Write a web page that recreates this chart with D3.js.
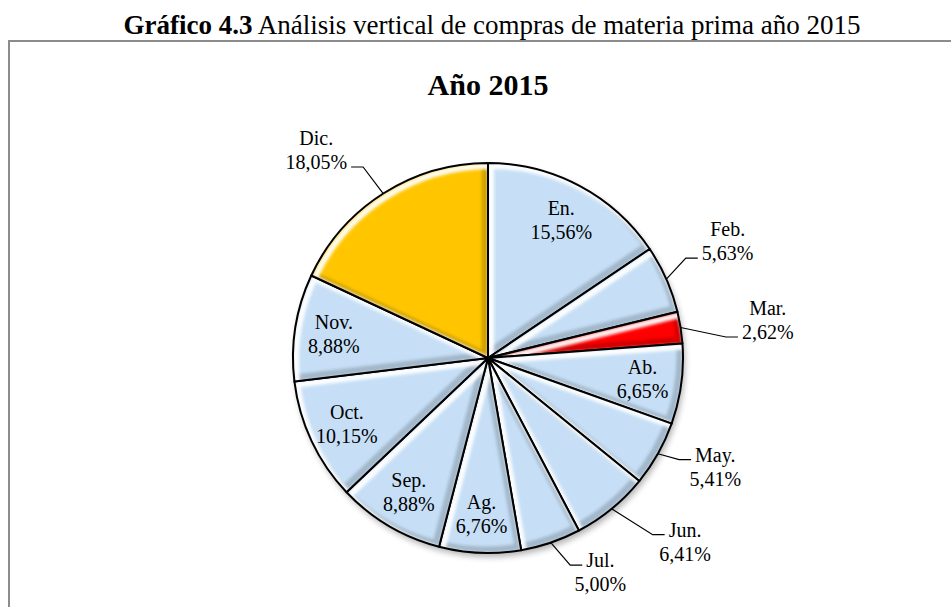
<!DOCTYPE html>
<html>
<head>
<meta charset="utf-8">
<script src="https://cdn.jsdelivr.net/npm/d3@7/dist/d3.min.js"></script>
<style>
body { margin: 0; background: #fff; }
#chart { width: 951px; height: 607px; }
text { font-family: "Times New Roman", "Liberation Serif", serif; fill: #000; }
</style>
</head>
<body>
<div id="chart"></div>
<script>

// datos: compras de materia prima 2015, % por mes
var months = ["En.", "Feb.", "Mar.", "Ab.", "May.", "Jun.", "Jul.", "Ag.", "Sep.", "Oct.", "Nov.", "Dic."];
var shares = [15.56, 5.63, 2.62, 6.65, 5.41, 6.41, 5.00, 6.76, 8.88, 10.15, 8.88, 18.05];

var figureTitle = "Gráfico 4.3";
var figureText = " Análisis vertical de compras de materia prima año 2015";
var chartTitle = "Año 2015";

// colores
var baseColor = "#c6dff6";
var specialColors = { "Mar.": "#ff0000", "Dic.": "#ffc600" };

// etiquetas que van fuera del pastel (ajuste manual como en excel)
var outsideLabels = {
    "Dic.": { dx: -31, dy: 13, line: 1 },
    "Feb.": { dx: 0, dy: -11, line: 1 },
    "Mar.": { dx: 21, dy: 3, line: 1 },
    "May.": { dx: -1, dy: -20, line: 0 },
    "Jun.": { dx: 31, dy: -19, line: 0 },
    "Jul.": { dx: 28, dy: -34, line: 0 }
};

var data = months.map(function(m, i) { return { month: m, value: shares[i] }; });

var width = document.querySelector("#chart").clientWidth;
var height = document.querySelector("#chart").clientHeight;
var svg = d3.select("#chart")
    .append("svg")
    .attr("width", width)
    .attr("height", height);

var defs = svg.append("defs");

var blurSoft = defs.append("filter").attr("id", "blurSoft")
    .attr("x", "-20%").attr("y", "-20%").attr("width", "140%").attr("height", "140%");
blurSoft.append("feGaussianBlur").attr("stdDeviation", 1.6);

var blurShadow = defs.append("filter").attr("id", "blurShadow")
    .attr("x", "-20%").attr("y", "-20%").attr("width", "140%").attr("height", "140%");
blurShadow.append("feGaussianBlur").attr("stdDeviation", 3);

// titulo de la figura
var title = svg.append("text")
    .attr("x", 492)
    .attr("y", 34)
    .attr("text-anchor", "middle")
    .attr("font-size", "27px");
title.append("tspan").attr("font-weight", "700").text(figureTitle);
title.append("tspan").text(figureText);

// marco del grafico
svg.append("rect")
    .attr("x", 9)
    .attr("y", 41)
    .attr("width", 1000)
    .attr("height", 1000)
    .attr("fill", "none")
    .attr("stroke", "#8c8c8c")
    .attr("stroke-width", 2);

svg.append("text")
    .attr("x", 488)
    .attr("y", 95)
    .attr("text-anchor", "middle")
    .attr("font-size", "30px")
    .attr("font-weight", "700")
    .text(chartTitle);

var cx = 488, cy = 358, R = 195;

var pie = d3.pie().sort(null).value(function(d) { return d.value; });
var arcs = pie(data);

var arc = d3.arc().innerRadius(0).outerRadius(R);
var edgeArc = d3.arc().innerRadius(R).outerRadius(R);
var insideArc = d3.arc().innerRadius(R * 0.8).outerRadius(R * 0.8);
var outerArc = d3.arc().innerRadius(262).outerRadius(262);

var g = svg.append("g").attr("transform", "translate(" + cx + "," + cy + ")");

// sombra exterior
g.append("circle")
    .attr("cx", 2)
    .attr("cy", 4)
    .attr("r", R)
    .attr("fill", "#000")
    .attr("opacity", 0.3)
    .attr("filter", "url(#blurShadow)");

function colorOf(m) { return specialColors[m] || baseColor; }

var slices = g.selectAll(".slice")
    .data(arcs)
    .enter()
    .append("g")
    .attr("class", "slice");

slices.each(function(d, i) {
    var s = d3.select(this);
    var id = "clip" + i;
    defs.append("clipPath").attr("id", id)
        .append("path").attr("d", arc(d));

    var inner = s.append("g").attr("clip-path", "url(#" + id + ")");
    inner.append("path")
        .attr("d", arc(d))
        .attr("fill", colorOf(d.data.month));
    // bisel: brillo arriba-izquierda, sombra abajo-derecha
    inner.append("path")
        .attr("d", arc(d))
        .attr("transform", "translate(-3,-3)")
        .attr("fill", "none")
        .attr("stroke", "#000")
        .attr("stroke-opacity", 0.18)
        .attr("stroke-width", 7)
        .attr("filter", "url(#blurSoft)");
    inner.append("path")
        .attr("d", arc(d))
        .attr("transform", "translate(3,3)")
        .attr("fill", "none")
        .attr("stroke", "#fff")
        .attr("stroke-opacity", 0.95)
        .attr("stroke-width", 6)
        .attr("filter", "url(#blurSoft)");

    s.append("path")
        .attr("d", arc(d))
        .attr("fill", "none")
        .attr("stroke", "#000")
        .attr("stroke-width", 2)
        .attr("stroke-linejoin", "round");
});

function fmt(v) { return d3.format(".2f")(v).replace(".", ",") + "%"; }

var lineGap = 24;

arcs.forEach(function(d) {
    var m = d.data.month;
    var out = outsideLabels[m];
    var pos;
    if (out) {
        var c = outerArc.centroid(d);
        pos = [c[0] + out.dx, c[1] + out.dy];
    } else {
        pos = insideArc.centroid(d);
    }

    var lines = [m, fmt(d.data.value)];
    var texts = lines.map(function(t, k) {
        return g.append("text")
            .attr("x", pos[0])
            .attr("y", pos[1] + (k - 0.5) * lineGap)
            .attr("dy", "0.35em")
            .attr("text-anchor", "middle")
            .attr("font-size", "20px")
            .text(t);
    });

    if (out) {
        var t = texts[out.line];
        var w = t.node().getComputedTextLength();
        var ly = pos[1] + (out.line - 0.5) * lineGap + 5;
        var start = edgeArc.centroid(d);
        var side = start[0] < pos[0] ? 1 : -1;
        var endX = pos[0] - side * (w / 2 + 4);
        var elbowX = endX - side * 12;
        g.append("path")
            .attr("d", d3.line()([start, [elbowX, ly], [endX, ly]]))
            .attr("fill", "none")
            .attr("stroke", "#000")
            .attr("stroke-width", 1.2);
    }
});

</script>
</body>
</html>
